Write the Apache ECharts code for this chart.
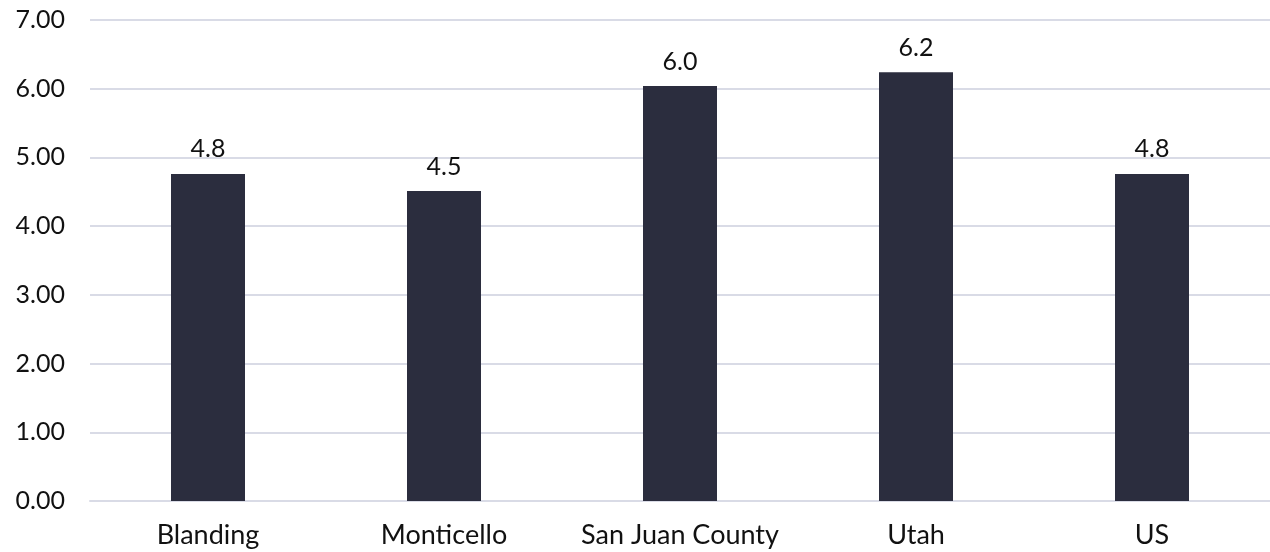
<!DOCTYPE html>
<html>
<head>
<meta charset="utf-8">
<script src="https://cdn.jsdelivr.net/npm/echarts@6/dist/echarts.min.js"></script>
<style>html,body{margin:0;padding:0;background:#fff}#c{width:1270px;height:552px}</style>
</head>
<body>
<div id="c"></div>
<script>
const categories = ["Blanding", "Monticello", "San Juan County", "Utah", "US"];
const values = [4.76, 4.51, 6.04, 6.24, 4.76];
const yTicks = [0, 1, 2, 3, 4, 5, 6, 7];

const chart = echarts.init(document.getElementById('c'));
chart.setOption({
  animation: false,
  grid: { left: 90, right: 0, top: 20, bottom: 51, containLabel: false },
  xAxis: {
    type: 'category',
    data: categories,
    axisLine: { show: true, lineStyle: { color: '#d9dbe6', width: 2 } },
    axisTick: { show: false },
    axisLabel: { interval: 0, color: '#111', fontSize: 27, fontFamily: 'Lato', margin: 21 }
  },
  yAxis: {
    type: 'value',
    min: yTicks[0],
    max: yTicks[yTicks.length - 1],
    interval: 1,
    axisLine: { show: false },
    axisTick: { show: false },
    splitLine: { lineStyle: { color: '#d9dbe6', width: 2 } },
    axisLabel: { color: '#111', fontSize: 25, fontFamily: 'Lato', margin: 25,
      formatter: v => v.toFixed(2) }
  },
  series: [{
    type: 'bar',
    data: values,
    barWidth: 74,
    itemStyle: { color: '#2b2d3e' },
    label: { show: true, position: 'top', distance: 12, color: '#111', fontSize: 25, fontFamily: 'Lato',
      formatter: p => p.value.toFixed(1) }
  }]
});
</script>
</body>
</html>
